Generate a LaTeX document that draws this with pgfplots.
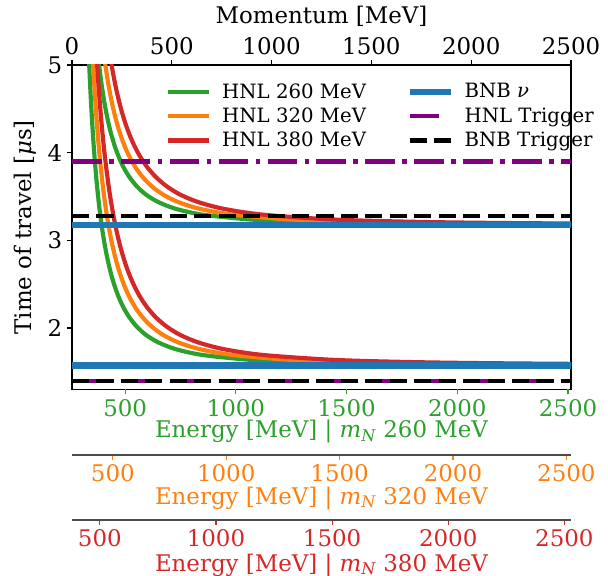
\documentclass[border=0pt]{standalone}
\usepackage{fontspec}
\setmainfont{DejaVu Serif}
\usepackage{pgfplots}
\pgfplotsset{compat=1.18}
\usepackage{pgfplotstable}

\definecolor{tabgreen}{HTML}{2CA02C}
\definecolor{taborange}{HTML}{FF7F0E}
\definecolor{tabred}{HTML}{D62728}
\definecolor{tabblue}{HTML}{1F77B4}
\definecolor{hnlpurple}{HTML}{800080}

% time of travel vs momentum, lower / upper (+1.6 us) branch
\pgfplotstableread{
t     tu    p260   p320   p380
5.730 7.330 74.3   91.4   108.6
5.427 7.027 78.8   97.0   115.2
5.127 6.727 83.9   103.2  122.6
4.828 6.428 89.7   110.3  131.0
4.532 6.132 96.3   118.5  140.7
4.238 5.838 104.0  128.0  152.0
3.948 5.548 113.0  139.1  165.2
3.661 5.261 123.8  152.4  181.0
3.520 5.120 130.0  160.0  190.0
3.380 4.980 136.8  168.4  200.0
3.241 4.841 144.4  177.8  211.1
3.104 4.704 152.9  188.2  223.5
2.970 4.570 162.5  200.0  237.5
2.838 4.438 173.3  213.3  253.3
2.708 4.308 185.7  228.6  271.4
2.582 4.182 200.0  246.2  292.3
2.459 4.059 216.7  266.7  316.7
2.340 3.940 236.4  290.9  345.5
2.226 3.826 260.0  320.0  380.0
2.118 3.718 288.9  355.6  422.2
2.016 3.616 325.0  400.0  475.0
1.921 3.521 371.4  457.1  542.9
1.836 3.436 433.3  533.3  633.3
1.760 3.360 520.0  640.0  760.0
1.695 3.295 650.0  800.0  950.0
1.643 3.243 866.7  1066.7 1266.7
1.622 3.222 1040.0 1280.0 1520.0
1.605 3.205 1300.0 1600.0 1900.0
1.592 3.192 1733.3 2133.3 2533.3
1.582 3.182 2600.0 3200.0 3800.0
}\hnl

\tikzset{big/.style={font=\fontsize{16.5}{19}\selectfont}}
\pgfplotsset{
  eaxis/.style={
    scale only axis, width=359.28pt,
    ymin=0, ymax=1,
    axis x line*=bottom, axis y line=none,
    xtick={500,1000,...,2500},
    tick align=outside, major tick length=3.6pt,
    every tick/.style={#1, line width=0.8pt},
    xticklabel style={big, text=#1},
    xlabel style={big, text=#1, at={(axis description cs:0.5,0)}, anchor=center},
    /pgf/number format/assume math mode=true,
    /pgf/number format/set thousands separator={},
  },
}

\begin{document}
\begin{tikzpicture}[x=1pt,y=1pt]
\useasboundingbox (0,0) rectangle (437.76,414);

\begin{axis}[
  at={(51.84pt,133.56pt)}, anchor=south west,
  scale only axis, width=359.28pt, height=233.64pt,
  xmin=0, xmax=2500, ymin=1.3, ymax=5,
  xtick={0,500,...,2500}, ytick={2,3,4,5},
  xtick pos=right, xticklabel pos=right, ytick pos=left,
  tick align=outside, major tick length=3.6pt,
  every tick/.style={black, line width=1pt},
  axis line style={line width=1.3pt},
  tick label style={big},
  /pgf/number format/assume math mode=true,
  /pgf/number format/set thousands separator={},
  xlabel={Momentum [MeV]},
  xlabel style={big, at={(axis description cs:0.5,1)}, anchor=center, yshift=35.3pt},
  ylabel={Time of travel [{\itshape μ}s]},
  ylabel style={big, at={(axis description cs:-0.094,0.5)}, anchor=center},
  legend columns=2,
  legend cell align=left,
  legend image code/.code={\draw[#1] (0pt,0pt) -- (29.5pt,0pt);},
  legend style={at={(axis description cs:0.18,0.961)}, anchor=north west,
    draw=none, fill=none, font=\fontsize{14.2}{17}\selectfont, row sep=1.5pt,
    /tikz/every odd column/.append style={column sep=5.8pt},
    /tikz/every even column/.append style={column sep=27pt}},
]
\addlegendimage{tabgreen, line width=3pt}
\addlegendentry{HNL 260 MeV}
\addlegendimage{tabblue, line width=4.7pt}
\addlegendentry{BNB {\itshape ν}}
\addlegendimage{taborange, line width=3pt}
\addlegendentry{HNL 320 MeV}
\addlegendimage{hnlpurple, line width=3pt, dash pattern=on 21.3pt off 10pt}
\addlegendentry{HNL Trigger}
\addlegendimage{tabred, line width=3pt}
\addlegendentry{HNL 380 MeV}
\addlegendimage{black, line width=3pt, dash pattern=on 12.3pt off 5.3pt}
\addlegendentry{BNB Trigger}

\addplot[forget plot, tabgreen, line width=3pt, smooth] table[x=p260, y=t] {\hnl};
\addplot[forget plot, tabgreen, line width=3pt, smooth] table[x=p260, y=tu] {\hnl};
\addplot[forget plot, taborange, line width=3pt, smooth] table[x=p320, y=t] {\hnl};
\addplot[forget plot, taborange, line width=3pt, smooth] table[x=p320, y=tu] {\hnl};
\addplot[forget plot, tabred, line width=3pt, smooth] table[x=p380, y=t] {\hnl};
\addplot[forget plot, tabred, line width=3pt, smooth] table[x=p380, y=tu] {\hnl};

% BNB neutrino arrival
\addplot[forget plot, tabblue, line width=4.7pt] coordinates {(0,1.574) (2500,1.574)};
\addplot[forget plot, tabblue, line width=4.7pt] coordinates {(0,3.174) (2500,3.174)};
% trigger windows
\addplot[forget plot, hnlpurple, line width=3pt, dash pattern=on 21.3pt off 5.3pt on 3.3pt off 5.3pt] coordinates {(0,1.40) (2500,1.40)};
\addplot[forget plot, hnlpurple, line width=3pt, dash pattern=on 21.3pt off 5.3pt on 3.3pt off 5.3pt] coordinates {(0,3.90) (2500,3.90)};
\addplot[forget plot, black, line width=3pt, dash pattern=on 12.3pt off 5.3pt] coordinates {(0,1.40) (2500,1.40)};
\addplot[forget plot, black, line width=3pt, dash pattern=on 12.3pt off 5.3pt] coordinates {(0,3.28) (2500,3.28)};
\end{axis}

% energy axes, one per HNL mass
\begin{axis}[eaxis=tabgreen,
  at={(51.84pt,133.56pt)}, anchor=south west, height=233.64pt,
  xmin=260, xmax=2513.5, axis line style={draw=none},
  xlabel={Energy [MeV] | {\itshape m}\textsubscript{\itshape N} 260 MeV},
  xlabel style={yshift=-30.2pt}]
\end{axis}

\begin{axis}[eaxis=taborange,
  at={(51.84pt,86.4pt)}, anchor=south west, height=10pt,
  xmin=320, xmax=2520.4, axis line style={black!70, line width=1pt},
  xlabel={Energy [MeV] | {\itshape m}\textsubscript{\itshape N} 320 MeV},
  xlabel style={yshift=-31pt}]
\end{axis}

\begin{axis}[eaxis=tabred,
  at={(51.84pt,39.6pt)}, anchor=south west, height=10pt,
  xmin=380, xmax=2528.7, axis line style={black!70, line width=1pt},
  xlabel={Energy [MeV] | {\itshape m}\textsubscript{\itshape N} 380 MeV},
  xlabel style={yshift=-32.4pt}]
\end{axis}

\end{tikzpicture}
\end{document}
